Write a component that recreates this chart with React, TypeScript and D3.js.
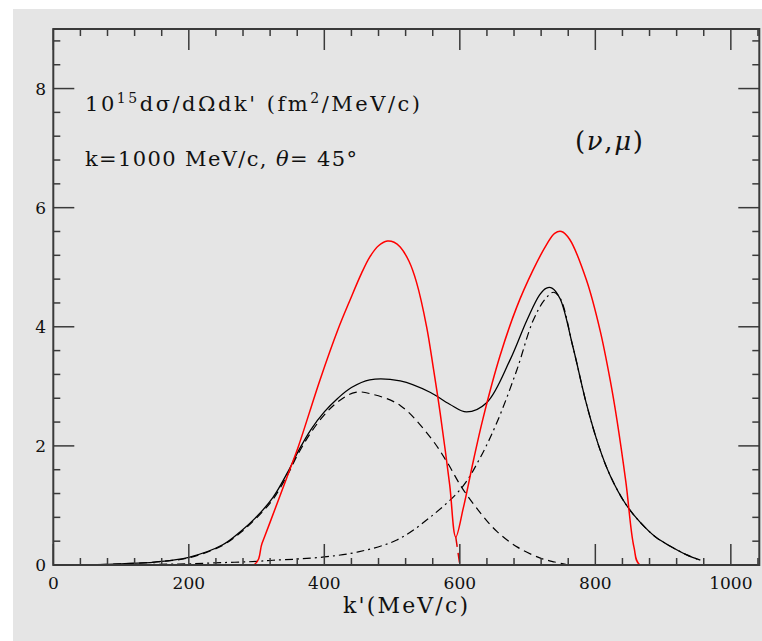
import React from "react";
import * as d3 from "d3";

// ---- data (k' in MeV/c, cross section in 1e-15 fm^2/MeV/c) ----
const kTotal = [50, 100, 150, 200, 250, 276, 300, 324, 346, 362, 380, 400, 420, 440, 467, 512, 556, 585, 610, 640, 674, 699, 718, 728, 736, 748, 767, 787, 805, 822, 845, 866, 890, 910, 935, 955];
const vTotal = [0, 0.02, 0.05, 0.13, 0.34, 0.56, 0.81, 1.13, 1.56, 1.92, 2.27, 2.57, 2.8, 2.98, 3.11, 3.09, 2.9, 2.7, 2.57, 2.73, 3.44, 4.11, 4.54, 4.65, 4.65, 4.47, 3.66, 2.7, 2.0, 1.5, 1.02, 0.72, 0.46, 0.32, 0.17, 0.08];

const kQE = [50, 100, 150, 200, 250, 276, 300, 324, 346, 362, 380, 400, 420, 446, 470, 512, 556, 580, 603, 630, 655, 685, 718, 740, 760];
const vQE = [0, 0.02, 0.05, 0.12, 0.33, 0.54, 0.79, 1.1, 1.52, 1.88, 2.22, 2.52, 2.74, 2.9, 2.87, 2.68, 2.15, 1.75, 1.3, 0.88, 0.56, 0.3, 0.12, 0.05, 0];

const kDelta = [50, 100, 150, 200, 250, 300, 324, 360, 404, 450, 507, 556, 603, 630, 655, 684, 708, 725, 738, 748, 767, 787, 805, 822, 845, 866, 890, 910, 935, 955];
const vDelta = [0, 0, 0.01, 0.02, 0.04, 0.06, 0.08, 0.1, 0.14, 0.22, 0.42, 0.8, 1.3, 1.8, 2.4, 3.27, 4.1, 4.45, 4.58, 4.48, 3.66, 2.7, 2.0, 1.5, 1.02, 0.72, 0.46, 0.32, 0.17, 0.08];

const kRed = [50, 296, 308, 320, 349, 362, 394, 420, 438, 455, 467, 480, 493, 503, 512, 525, 536, 551, 561, 571, 585, 594, 605, 620, 634, 659, 684, 708, 728, 740, 750, 762, 787, 807, 822, 832, 845, 857, 866, 955];
const vRed = [0, 0, 0.36, 0.72, 1.6, 2.0, 3.12, 3.95, 4.45, 4.9, 5.17, 5.36, 5.44, 5.42, 5.34, 5.1, 4.75, 4.0, 3.3, 2.55, 1.35, 0.47, 0.95, 1.75, 2.45, 3.5, 4.33, 4.95, 5.38, 5.57, 5.6, 5.47, 4.78, 3.94, 3.1, 2.43, 1.4, 0.3, 0, 0];

const kRedDash = [594, 600, 860];
const vRedDash = [0.47, 0, 0];

const xMajor = [0, 200, 400, 600, 800, 1000];
const yMajor = [0, 2, 4, 6, 8];

const W = 762, H = 641;
const L = 53.3, R = 759.3, T = 29, B = 565;

export default function App() {
  const x = d3.scaleLinear().domain([0, 1042]).range([L, R]);
  const y = d3.scaleLinear().domain([0, 9]).range([B, T]);

  const mk = (ks: number[], vs: number[], curve: any) =>
    d3.line<number>().x((_, i) => x(ks[i])).y((_, i) => y(vs[i])).curve(curve)(vs) || "";

  const smooth = d3.curveCatmullRom.alpha(0.5);

  const xMinor = d3.range(0, 1042, 40).filter((v) => v % 200 !== 0);
  const yMinor = d3.range(0, 9.01, 0.4).map((v) => +v.toFixed(1)).filter((v) => Math.abs(v / 2 - Math.round(v / 2)) > 1e-6);

  const axisColor = "#3a3a3a";
  const serif = "'DejaVu Serif', 'Liberation Serif', serif";
  const maj = 21, min = 7;

  return (
    <svg width={W} height={H} style={{ position: "absolute", left: 0, top: 0 }}>
      <defs>
        <clipPath id="plotclip">
          <rect x={L} y={T} width={R - L} height={B - T} />
        </clipPath>
      </defs>
      <rect x={0} y={0} width={W} height={H} fill="#ffffff" />
      <rect x={13} y={9} width={W - 13} height={H - 9} fill="#e5e5e5" />

      {/* curves */}
      <g clipPath="url(#plotclip)">
        <path d={mk(kQE, vQE, smooth)} fill="none" stroke="#000" strokeWidth={1.2} strokeDasharray="8,5" />
        <path d={mk(kDelta, vDelta, smooth)} fill="none" stroke="#000" strokeWidth={1.2} strokeDasharray="8,4,2,4" />
        <path d={mk(kTotal, vTotal, smooth)} fill="none" stroke="#000" strokeWidth={1.3} />
        <path d={mk(kRedDash, vRedDash, d3.curveLinear)} fill="none" stroke="#e00000" strokeWidth={1.5} strokeDasharray="10,6" />
        <path d={mk(kRed, vRed, smooth)} fill="none" stroke="#ff0000" strokeWidth={1.5} />
      </g>

      {/* frame */}
      <rect x={L} y={T} width={R - L} height={B - T} fill="none" stroke={axisColor} strokeWidth={2} />

      {/* x ticks */}
      {xMajor.map((v) => (
        <g key={"xM" + v}>
          <line x1={x(v)} x2={x(v)} y1={B} y2={B - maj} stroke={axisColor} strokeWidth={1.5} />
          <line x1={x(v)} x2={x(v)} y1={T} y2={T + maj} stroke={axisColor} strokeWidth={1.5} />
          <text x={x(v)} y={589} textAnchor="middle" fontFamily={serif} fontSize={17} fill="#111">{v}</text>
        </g>
      ))}
      {xMinor.map((v) => (
        <g key={"xm" + v}>
          <line x1={x(v)} x2={x(v)} y1={B} y2={B - min} stroke={axisColor} strokeWidth={1.5} />
          <line x1={x(v)} x2={x(v)} y1={T} y2={T + min} stroke={axisColor} strokeWidth={1.5} />
        </g>
      ))}

      {/* y ticks */}
      {yMajor.map((v) => (
        <g key={"yM" + v}>
          <line x1={L} x2={L + maj} y1={y(v)} y2={y(v)} stroke={axisColor} strokeWidth={1.5} />
          <line x1={R} x2={R - maj} y1={y(v)} y2={y(v)} stroke={axisColor} strokeWidth={1.5} />
          <text x={46} y={y(v) + 6} textAnchor="end" fontFamily={serif} fontSize={17} fill="#111">{v}</text>
        </g>
      ))}
      {yMinor.map((v) => (
        <g key={"ym" + v}>
          <line x1={L} x2={L + min} y1={y(v)} y2={y(v)} stroke={axisColor} strokeWidth={1.5} />
          <line x1={R} x2={R - min} y1={y(v)} y2={y(v)} stroke={axisColor} strokeWidth={1.5} />
        </g>
      ))}

      {/* axis title */}
      <text x={343} y={613} textLength={125} lengthAdjust="spacing" fontFamily={serif} fontSize={22} fill="#111">k'(MeV/c)</text>

      {/* annotations */}
      <text x={85} y={111} textLength={335} lengthAdjust="spacing" fontFamily={serif} fontSize={21} fill="#111">
        10<tspan dy={-8} fontSize={14}>15</tspan><tspan dy={8}>dσ/dΩdk' (fm</tspan><tspan dy={-8} fontSize={14}>2</tspan><tspan dy={8}>/MeV/c)</tspan>
      </text>
      <text x={85} y={166} textLength={272} lengthAdjust="spacing" fontFamily={serif} fontSize={21} fill="#111">
        k=1000 MeV/c, <tspan fontStyle="italic">θ</tspan>= 45°
      </text>
      <text x={575} y={150} textLength={68} lengthAdjust="spacing" fontFamily={serif} fontSize={26} fill="#111">
        (<tspan fontStyle="italic">ν</tspan>,<tspan fontStyle="italic">μ</tspan>)
      </text>
    </svg>
  );
}
